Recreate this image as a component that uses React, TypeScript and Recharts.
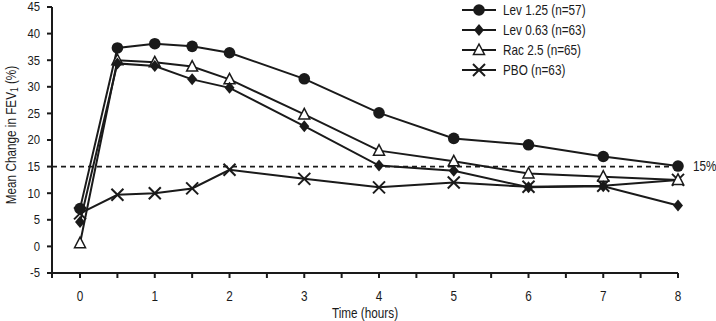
import React from "react";
import { LineChart, Line, XAxis, YAxis, ReferenceLine } from "recharts";

const hours = [0, 0.5, 1, 1.5, 2, 3, 4, 5, 6, 7, 8];
const lev125 = [7.1, 37.3, 38.1, 37.6, 36.4, 31.5, 25.1, 20.3, 19.1, 16.9, 15.1];
const lev063 = [4.6, 34.4, 33.9, 31.4, 29.8, 22.6, 15.2, 14.2, 11.1, 11.3, 7.7];
const rac25 = [0.6, 35.0, 34.6, 33.8, 31.4, 24.8, 18.0, 16.0, 13.7, 13.1, 12.5];
const pbo = [6.2, 9.7, 10.0, 10.9, 14.4, 12.7, 11.1, 12.0, 11.2, 11.4, 12.5];

const xTicks = [-0.375, 0, 0.5, 1, 1.5, 2, 2.5, 3, 3.5, 4, 4.5, 5, 5.5, 6, 6.5, 7, 7.5, 8];
const yTicks = [-5, 0, 5, 10, 15, 20, 25, 30, 35, 40, 45];

const seriesNames = ["Lev 1.25 (n=57)", "Lev 0.63 (n=63)", "Rac 2.5 (n=65)", "PBO (n=63)"];
const seriesKeys = ["lev125", "lev063", "rac25", "pbo"];

const data = hours.map((t, i) => ({
  t,
  lev125: lev125[i],
  lev063: lev063[i],
  rac25: rac25[i],
  pbo: pbo[i],
}));

const FONT = "'Liberation Sans', Arial, sans-serif";
const INK = "#1a1a1a";
const NARROW = 0.84; // fake a condensed face

type Shape = "circle" | "diamond" | "triangle" | "cross";
const shapes: Shape[] = ["circle", "diamond", "triangle", "cross"];

function Marker({ shape, cx, cy }: { shape: Shape; cx: number; cy: number }) {
  if (shape === "circle") return <circle cx={cx} cy={cy} r={5.8} fill={INK} />;
  if (shape === "diamond")
    return (
      <polygon
        points={`${cx},${cy - 6} ${cx + 5},${cy} ${cx},${cy + 6} ${cx - 5},${cy}`}
        fill={INK}
      />
    );
  if (shape === "triangle")
    return (
      <polygon
        points={`${cx},${cy - 6} ${cx + 5.5},${cy + 4.5} ${cx - 5.5},${cy + 4.5}`}
        fill="#fff"
        stroke={INK}
        strokeWidth={1.5}
      />
    );
  return (
    <g stroke={INK} strokeWidth={2}>
      <line x1={cx - 6} y1={cy - 6} x2={cx + 6} y2={cy + 6} />
      <line x1={cx - 6} y1={cy + 6} x2={cx + 6} y2={cy - 6} />
    </g>
  );
}

const makeDot = (shape: Shape) => (p: any) => {
  if (p.cx == null || p.cy == null) return <g key={p.index} />;
  return (
    <g key={`${shape}-${p.index}`}>
      <Marker shape={shape} cx={p.cx} cy={p.cy} />
    </g>
  );
};

// narrow text helper
function NText({
  x,
  y,
  anchor = "start",
  size = 14,
  children,
}: {
  x: number;
  y: number;
  anchor?: "start" | "middle" | "end";
  size?: number;
  children: React.ReactNode;
}) {
  return (
    <g transform={`translate(${x} ${y}) scale(${NARROW} 1)`}>
      <text
        x={0}
        y={0}
        textAnchor={anchor}
        dominantBaseline="central"
        fontFamily={FONT}
        fontSize={size}
        fill={INK}
      >
        {children}
      </text>
    </g>
  );
}

const XTick = (props: any) => {
  const { x, payload } = props;
  const v = payload.value;
  if (!(Number.isInteger(v) && v >= 0)) return <g />;
  return <NText x={x} y={296} anchor="middle">{v}</NText>;
};

const YTick = (props: any) => {
  const { y, payload } = props;
  return <NText x={40} y={y} anchor="end" size={13.5}>{payload.value}</NText>;
};

// legend drawn as a plain overlay so it doesn't eat chart space
const LegendBox = () => (
  <svg width={240} height={82} style={{ position: "absolute", left: 456, top: 0 }}>
    {seriesNames.map((name, i) => {
      const y = 10 + i * 20;
      return (
        <g key={name}>
          <line x1={6} y1={y} x2={40} y2={y} stroke={INK} strokeWidth={2} />
          <Marker shape={shapes[i]} cx={23} cy={y} />
          <NText x={47} y={y}>{name}</NText>
        </g>
      );
    })}
  </svg>
);

const YLabel = (props: any) => {
  const { viewBox } = props;
  const cx = 11;
  const cy = viewBox.y + viewBox.height / 2 - 5;
  return (
    <g transform={`translate(${cx} ${cy}) rotate(-90) scale(${NARROW} 1)`}>
      <text
        x={0}
        y={0}
        textAnchor="middle"
        dominantBaseline="central"
        fontFamily={FONT}
        fontSize={14}
        fill={INK}
      >
        Mean Change in FEV
        <tspan fontSize={10} dy={4}>1</tspan>
        <tspan dy={-4}> (%)</tspan>
      </text>
    </g>
  );
};

const RefLabel = (props: any) => {
  const { viewBox } = props;
  return (
    <NText x={viewBox.x + viewBox.width + 15} y={viewBox.y}>
      15%
    </NText>
  );
};

const XLabel = (props: any) => {
  const { viewBox } = props;
  return (
    <NText x={viewBox.x + viewBox.width / 2} y={313} anchor="middle">
      Time (hours)
    </NText>
  );
};

export default function App() {
  return (
    <div style={{ position: "absolute", left: 0, top: 0, width: 716, height: 321, background: "#fff" }}>
      <LineChart
        width={716}
        height={321}
        data={data}
        margin={{ top: 7, right: 38, left: 0, bottom: 8 }}
      >
        <XAxis
          dataKey="t"
          type="number"
          domain={[-0.375, 8]}
          ticks={xTicks}
          interval={0}
          tick={<XTick />}
          tickLine={{ stroke: INK, strokeWidth: 2 }}
          axisLine={{ stroke: INK, strokeWidth: 2 }}
          tickSize={5}
          height={40}
          label={<XLabel />}
        />
        <YAxis
          type="number"
          domain={[-5, 45]}
          ticks={yTicks}
          interval={0}
          width={52}
          tick={<YTick />}
          tickLine={{ stroke: INK, strokeWidth: 2 }}
          axisLine={{ stroke: INK, strokeWidth: 2 }}
          tickSize={5}
          label={<YLabel />}
        />
        <ReferenceLine
          y={15}
          stroke={INK}
          strokeWidth={1.8}
          strokeDasharray="5 4"
          label={<RefLabel />}
        />
        {[3, 2, 1, 0].map((i) => (
          <Line
            key={seriesKeys[i]}
            dataKey={seriesKeys[i]}
            name={seriesNames[i]}
            stroke={INK}
            strokeWidth={2}
            dot={makeDot(shapes[i])}
            activeDot={false}
            isAnimationActive={false}
          />
        ))}
      </LineChart>
      <LegendBox />
    </div>
  );
}
